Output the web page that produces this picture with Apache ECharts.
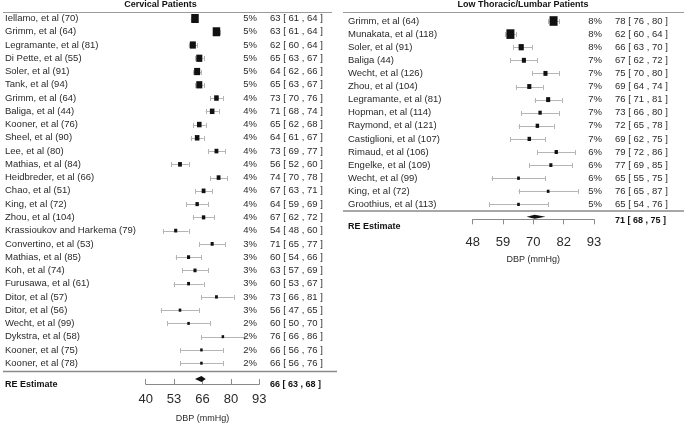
<!DOCTYPE html>
<html><head><meta charset="utf-8">
<script src="https://cdn.jsdelivr.net/npm/echarts@6/dist/echarts.min.js"></script>
<style>html,body{margin:0;padding:0;background:#fff}#c{width:685px;height:428px}</style>
</head><body><div id="c"></div>
<script>
// ---------- Cervical panel data ----------
const cervStudies = ["Iellamo, et al (70)","Grimm, et al (64)","Legramante, et al (81)","Di Pette, et al (55)","Soler, et al (91)","Tank, et al (94)","Grimm, et al (64)","Baliga, et al (44)","Kooner, et al (76)","Sheel, et al (90)","Lee, et al (80)","Mathias, et al (84)","Heidbreder, et al (66)","Chao, et al (51)","King, et al (72)","Zhou, et al (104)","Krassioukov and Harkema (79)","Convertino, et al (53)","Mathias, et al (85)","Koh, et al (74)","Furusawa, et al (61)","Ditor, et al (57)","Ditor, et al (56)","Wecht, et al (99)","Dykstra, et al (58)","Kooner, et al (75)","Kooner, et al (78)"];
const cervWeights = ["5%","5%","5%","5%","5%","5%","4%","4%","4%","4%","4%","4%","4%","4%","4%","4%","4%","3%","3%","3%","3%","3%","3%","2%","2%","2%","2%"];
// printed estimates / CI
const cervEst = [63,63,62,65,64,65,73,71,65,64,73,56,74,67,64,67,54,71,60,63,60,73,56,60,76,66,66];
const cervLo  = [61,61,60,63,62,63,70,68,62,61,69,52,70,63,59,62,48,65,54,57,53,66,47,50,66,56,56];
const cervHi  = [64,64,64,67,66,67,76,74,68,67,77,60,78,71,69,72,60,77,66,69,67,81,65,70,86,76,76];
// position where each box is drawn in the figure (2nd Grimm row is drawn at 73)
const cervDrawEst = [63,73,62,65,64,65,73,71,65,64,73,56,74,67,64,67,54,71,60,63,60,73,56,60,76,66,66];
const cervDrawLo  = [61,71.5,60,63,62,63,70,68,62,61,69,52,70,63,59,62,48,65,54,57,53,66,47,50,66,56,56];
const cervDrawHi  = [64,74.5,64,67,66,67,76,74,68,67,77,60,78,71,69,72,60,77,66,69,67,81,65,70,86,76,76];
const cervRE = [66,63,68];
const cervTicks = ["40","53","66","80","93"];

// ---------- Low thoracic / lumbar panel data ----------
const lumbStudies = ["Grimm, et al (64)","Munakata, et al (118)","Soler, et al (91)","Baliga (44)","Wecht, et al (126)","Zhou, et al (104)","Legramante, et al (81)","Hopman, et al (114)","Raymond, et al (121)","Castiglioni, et al (107)","Rimaud, et al (106)","Engelke, et al (109)","Wecht, et al (99)","King, et al (72)","Groothius, et al (113)"];
const lumbWeights = ["8%","8%","8%","7%","7%","7%","7%","7%","7%","7%","6%","6%","6%","5%","5%"];
const lumbEst = [78,62,66,67,75,69,76,73,72,69,79,77,65,76,65];
const lumbLo  = [76,60,63,62,70,64,71,66,65,62,72,69,55,65,54];
const lumbHi  = [80,64,70,72,80,74,81,80,78,75,86,85,75,87,76];
const lumbRE = [71,68,75];
const lumbTicks = ["48","59","70","82","93"];

const FONT = "'Liberation Sans', Arial, sans-serif";
const TXT = '#2a2a2a';

function ciStr(e,l,h){ return e + ' [ ' + l + ' , ' + h + ' ]'; }

function studySeries(axisIdx, names, pcts, est, lo, hi, dEst, dLo, dHi, base, L) {
  const w = dLo.map((l,i)=>1/(dHi[i]-l));
  const wmin = Math.min(...w), wmax = Math.max(...w);
  const data = names.map((n,i)=>[dEst[i], dLo[i], dHi[i], i, 0.5 + (w[i]-wmin)/(wmax-wmin)]);
  return {
    type:'custom', xAxisIndex:axisIdx, yAxisIndex:axisIdx, data, clip:false, silent:true,
    renderItem(params, api){
      const i = params.dataIndex;
      const r = api.value(3);
      const pe = api.coord([api.value(0), r]);
      const pl = api.coord([api.value(1), r]);
      const ph = api.coord([api.value(2), r]);
      const y = pe[1];
      const yl = Math.round(y) + 0.5;
      const s = base*api.value(4), h = s*1.2;
      const tstyle = {fontFamily:FONT, fontSize:9.5, fill:TXT, verticalAlign:'middle'};
      return {type:'group', children:[
        {type:'line', shape:{x1:pl[0],y1:yl,x2:ph[0],y2:yl}, style:{stroke:'#b5b5b5', lineWidth:1}},
        {type:'line', shape:{x1:Math.round(pl[0])+0.5,y1:yl-2.5,x2:Math.round(pl[0])+0.5,y2:yl+2.5}, style:{stroke:'#b5b5b5', lineWidth:1}},
        {type:'line', shape:{x1:Math.round(ph[0])+0.5,y1:yl-2.5,x2:Math.round(ph[0])+0.5,y2:yl+2.5}, style:{stroke:'#b5b5b5', lineWidth:1}},
        {type:'rect', shape:{x:pe[0]-s/2, y:y-h/2, width:s, height:h}, style:{fill:'#111'}},
        {type:'text', x:L.nameX, y:y, style:Object.assign({text:names[i], align:'left'}, tstyle)},
        {type:'text', x:L.pctX, y:y, style:Object.assign({text:pcts[i], align:'right'}, tstyle)},
        {type:'text', x:L.ciX, y:y, style:Object.assign({text:ciStr(est[i],lo[i],hi[i]), align:'left'}, tstyle)}
      ]};
    }
  };
}

function reSeries(axisIdx, re, row, dh, L) {
  return {
    type:'custom', xAxisIndex:axisIdx, yAxisIndex:axisIdx, data:[[re[0],re[1],re[2],row]], clip:false, silent:true,
    renderItem(params, api){
      const pe = api.coord([api.value(0), api.value(3)]);
      const pl = api.coord([api.value(1), api.value(3)]);
      const ph = api.coord([api.value(2), api.value(3)]);
      const y = pe[1];
      const bstyle = {fontFamily:FONT, fontSize:9, fontWeight:'bold', fill:'#111', verticalAlign:'middle'};
      return {type:'group', children:[
        {type:'polygon', shape:{points:[[pl[0],y],[pe[0],y-dh],[ph[0],y],[pe[0],y+dh]]}, style:{fill:'#111'}},
        {type:'text', x:L.nameX, y:y+L.reDy, style:Object.assign({text:'RE Estimate', align:'left'}, bstyle)},
        {type:'text', x:L.ciX, y:y+L.ciDy, style:Object.assign({text:ciStr(re[0],re[1],re[2]), align:'left'}, bstyle)}
      ]};
    }
  };
}

function xAxisDef(grid, min, max, ticks, inside, margin, nameGap) {
  const interval = (max-min)/(ticks.length-1);
  return {
    type:'value', gridIndex:grid, min, max, interval, position:'bottom',
    name:'DBP (mmHg)', nameLocation:'middle', nameGap,
    nameTextStyle:{fontFamily:FONT, fontSize:9, color:TXT},
    axisLine:{show:true, onZero:false, lineStyle:{color:'#8a8a8a', width:1}},
    axisTick:{show:true, inside, length:5, lineStyle:{color:'#8a8a8a'}},
    axisLabel:{margin, fontFamily:FONT, fontSize:13, color:TXT,
      formatter:(v)=>ticks[Math.round((v-min)/interval)]},
    splitLine:{show:false}
  };
}

const Lc = {nameX:5, pctX:257, ciX:270, reDy:5.5, ciDy:5.5};
const Ll = {nameX:348, pctX:602, ciX:615, reDy:10, ciDy:3.5};

const chart = echarts.init(document.getElementById('c'), null, {renderer:'canvas'});
chart.setOption({
  animation:false,
  backgroundColor:'#fff',
  grid:[
    {left:145.67, width:113.67, top:18.5, height:367.5},
    {left:472.67, width:121.33, top:21, height:198.3}
  ],
  xAxis:[
    xAxisDef(0, 40, 93, cervTicks, true, 9, 30),
    xAxisDef(1, 48, 93, lumbTicks, false, 16.5, 36)
  ],
  yAxis:[
    {type:'value', gridIndex:0, min:0, max:367.5/13.33, inverse:true, show:false},
    {type:'value', gridIndex:1, min:0, max:198.3/13.1, inverse:true, show:false}
  ],
  graphic:[
    {type:'text', x:160.5, y:5, style:{text:'Cervical Patients', align:'center', verticalAlign:'middle', fontFamily:FONT, fontSize:9, fontWeight:'bold', fill:'#111'}},
    {type:'text', x:523, y:5, style:{text:'Low Thoracic/Lumbar Patients', align:'center', verticalAlign:'middle', fontFamily:FONT, fontSize:9, fontWeight:'bold', fill:'#111'}},
    {type:'line', shape:{x1:3,y1:12.5,x2:332,y2:12.5}, style:{stroke:'#9a9a9a', lineWidth:1}},
    {type:'line', shape:{x1:343,y1:12.5,x2:684,y2:12.5}, style:{stroke:'#9a9a9a', lineWidth:1}},
    {type:'line', shape:{x1:3,y1:371.5,x2:337,y2:371.5}, style:{stroke:'#8a8a8a', lineWidth:1.5}},
    {type:'line', shape:{x1:343,y1:211,x2:684,y2:211}, style:{stroke:'#8a8a8a', lineWidth:1.5}}
  ],
  series:[
    studySeries(0, cervStudies, cervWeights, cervEst, cervLo, cervHi, cervDrawEst, cervDrawLo, cervDrawHi, 5, Lc),
    reSeries(0, cervRE, (381-18.5)/13.33, 3, Lc),
    studySeries(1, lumbStudies, lumbWeights, lumbEst, lumbLo, lumbHi, lumbEst, lumbLo, lumbHi, 5.33, Ll),
    reSeries(1, lumbRE, (216.7-21)/13.1, 2, Ll)
  ]
});
</script>
</body></html>
